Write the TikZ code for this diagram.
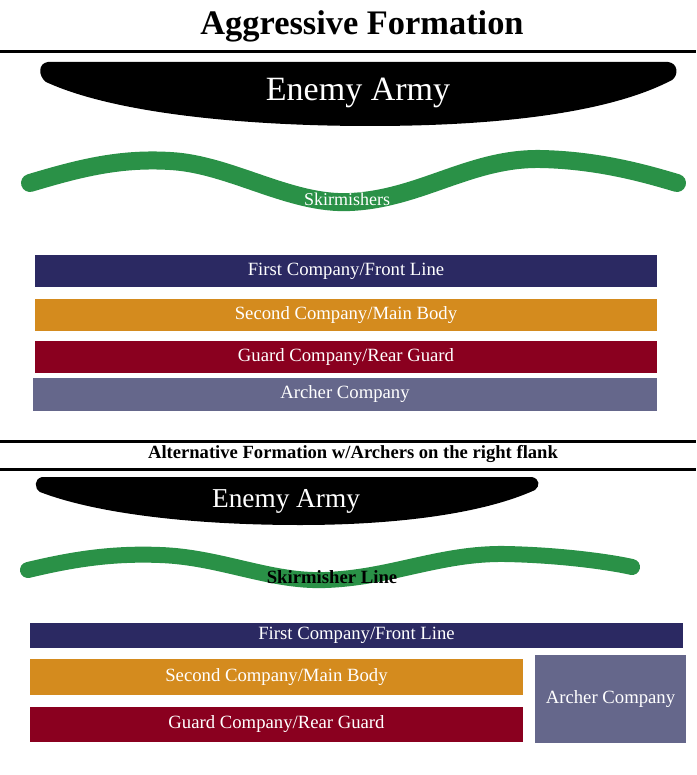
\documentclass[tikz,border=0pt]{standalone}
\usepackage{fontspec}
\setmainfont{Liberation Serif}
\usepackage{xcolor}
\usetikzlibrary{positioning}
\definecolor{frontblue}{HTML}{2B2962}
\definecolor{mainorange}{HTML}{D48B1E}
\definecolor{rearred}{HTML}{8A001F}
\definecolor{archergray}{HTML}{65678B}
\definecolor{skirmgreen}{HTML}{2A9147}

\begin{document}
\begin{tikzpicture}[x=1pt, y=-1pt,
    company/.style={rectangle, inner sep=0pt, text=white, font=\fontsize{18.7}{20}\selectfont},
    rule/.style={line width=3pt},
    skirm/.style={skirmgreen, line width=18pt, line cap=round}]
\useasboundingbox (0,0) rectangle (696,775);

% aggressive formation
\node[font=\bfseries\fontsize{34.4}{37}\selectfont] (title) at (362,26) {Aggressive Formation};
\draw[rule] (0,51.5) -- (696,51.5);
\fill (48,62) -- (668,62) .. controls (678,63) and (679,75) .. (672,80)
    .. controls (600,118) and (470,126) .. (370,126)
    .. controls (260,126) and (120,116) .. (46,82)
    .. controls (38,76) and (38,63) .. (48,62);
\node[text=white, font=\fontsize{34}{37}\selectfont] (enemy) at (358,93) {Enemy Army};
\draw[skirm] (30,183) .. controls (80,168) and (120,158) .. (170,161)
    .. controls (230,164) and (290,205) .. (350,202)
    .. controls (420,199) and (470,158) .. (540,159)
    .. controls (600,160) and (650,175) .. (677,183);
\node[text=white, font=\fontsize{18}{20}\selectfont] (skirmishers) at (347,199) {Skirmishers};
\node[company, fill=frontblue, minimum width=622, minimum height=32] (front) at (346,271) {First Company/Front Line};
\node[company, fill=mainorange, minimum width=622, minimum height=32] (main) at (346,315) {Second Company/Main Body};
\node[company, fill=rearred, minimum width=622, minimum height=32] (rear) at (346,357) {Guard Company/Rear Guard};
\node[company, fill=archergray, minimum width=624, minimum height=33] (archer) at (345,394.5) {Archer Company};

% alternative formation
\draw[rule] (0,441.5) -- (696,441.5);
\node[font=\bfseries\fontsize{18.6}{20}\selectfont] (alttitle) at (353,454) {Alternative Formation w/Archers on the right flank};
\draw[rule] (0,469.5) -- (696,469.5);
\fill (42,477) -- (532,477) .. controls (540,479) and (540,486) .. (535,490)
    .. controls (480,515) and (390,525) .. (300,525)
    .. controls (200,525) and (100,515) .. (40,492)
    .. controls (34,488) and (34,479) .. (42,477);
\node[text=white, font=\fontsize{27.3}{30}\selectfont] (enemy2) at (286,501) {Enemy Army};
\draw[skirm, line width=16pt] (28,570) .. controls (70,560) and (110,553) .. (160,555)
    .. controls (220,557) and (270,582) .. (325,580)
    .. controls (390,578) and (440,553) .. (505,554)
    .. controls (560,555) and (610,562) .. (632,567);
\node[font=\bfseries\fontsize{18.7}{20}\selectfont] (skirmline) at (332,577) {Skirmisher Line};
\node[company, fill=frontblue, minimum width=653, minimum height=25] (front2) at (356.5,635.5) {First Company/Front Line};
\node[company, fill=mainorange, minimum width=493, minimum height=36] (main2) at (276.5,677) {Second Company/Main Body};
\node[company, fill=rearred, minimum width=493, minimum height=35] (rear2) at (276.5,724) {Guard Company/Rear Guard};
\node[company, fill=archergray, minimum width=151, minimum height=88] (archer2) at (610.5,699) {Archer Company};
\end{tikzpicture}
\end{document}
